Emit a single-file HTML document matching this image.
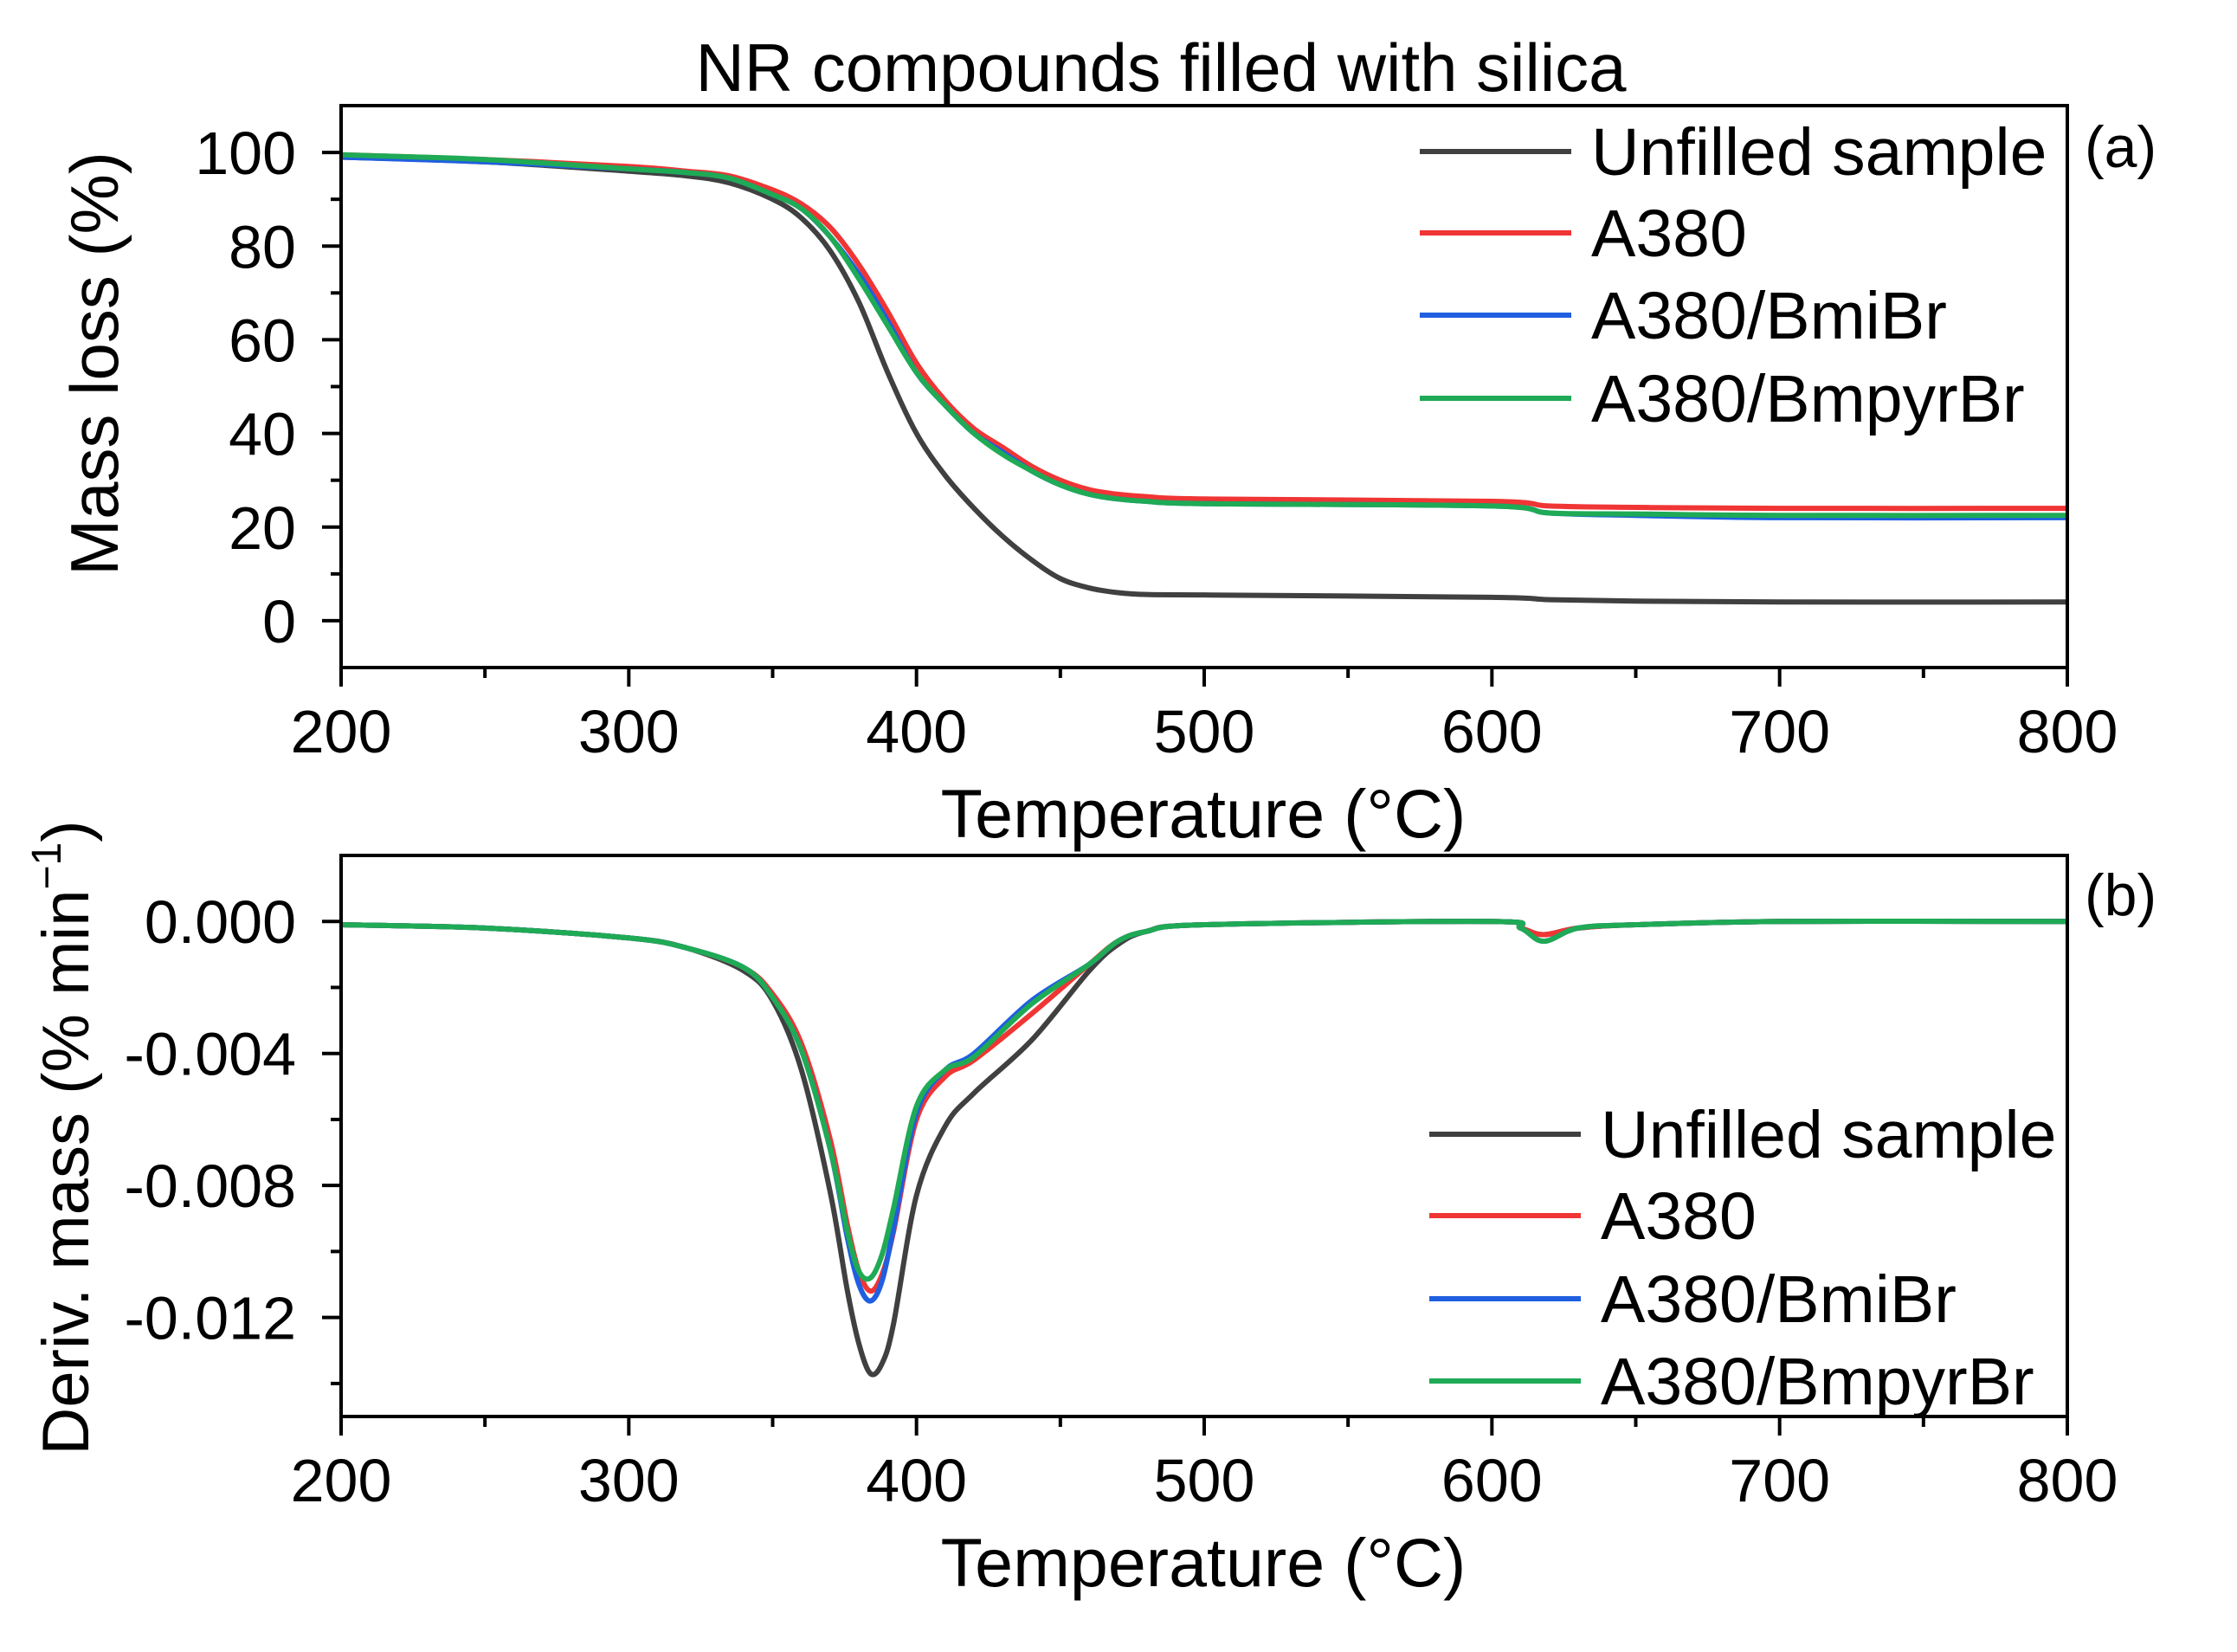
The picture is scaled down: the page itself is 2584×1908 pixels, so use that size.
<!DOCTYPE html>
<html><head><meta charset="utf-8"><style>
body{margin:0;background:#fff}
svg{display:block}
text{font-family:"Liberation Sans",Arial,sans-serif;fill:#000}
</style></head><body>
<svg id="chart" width="2584" height="1908" viewBox="0 0 2584 1908" xmlns="http://www.w3.org/2000/svg">
<text x="1341" y="105" font-size="78" text-anchor="middle">NR compounds filled with silica</text>
<g id="gtop"></g><g id="gbot"></g>
</svg>
<script>
const temps=[200,250,300,320,335,350,360,370,380,390,400,410,420,430,440,450,460,470,480,500,600,620,650,700,800];
const tgaUnfilled=[99,98,96,95,93.5,90,86,79,68,53,40,31,24,18,13,9,7,6,5.6,5.5,5,4.5,4.2,4,4];
const tgaA380=[99.5,98.5,97,96,95,92,89,84,76,66,55,47,41,37,33,30,28,27,26.5,26,25.5,24.5,24.2,24,24];
const tgaBmiBr=[99,98,96.5,95.7,94.5,91,88,82,74,64,53,46,40,36,32,29,27,26,25.5,25,24.5,23,22.5,22,22];
const tgaBmpyrBr=[99.5,98.5,96.5,95.7,94.5,91,88,82,73,63,53,46,40,35.5,32,29,27,26,25.5,25,24.5,23,22.8,22.5,22.5];
const dtgTemps=[200,250,300,320,340,350,360,370,376,380,384,388,392,400,410,420,440,460,470,480,500,600,610,618,630,650,700,800];
const dtgUnfilled=[-0.0001,-0.0002,-0.0005,-0.0008,-0.0015,-0.0024,-0.0045,-0.0082,-0.0112,-0.0128,-0.0137,-0.0134,-0.0122,-0.0083,-0.0062,-0.0052,-0.0036,-0.0015,-0.0007,-0.0003,-0.0001,0,-0.0002,-0.0004,-0.0002,-0.0001,0,0];
const dtgA380=[-0.0001,-0.0002,-0.0005,-0.0008,-0.0014,-0.0022,-0.0037,-0.0066,-0.0092,-0.0106,-0.0112,-0.0107,-0.0094,-0.0060,-0.0047,-0.0042,-0.0028,-0.0013,-0.0006,-0.0003,-0.0001,0,-0.0002,-0.0004,-0.0002,-0.0001,0,0];
const dtgBmiBr=[-0.0001,-0.0002,-0.0005,-0.0008,-0.0014,-0.0023,-0.0039,-0.0069,-0.0096,-0.0110,-0.0115,-0.0109,-0.0093,-0.0058,-0.0045,-0.0040,-0.0024,-0.0013,-0.0006,-0.0003,-0.0001,0,-0.0002,-0.0006,-0.0002,-0.0001,0,0];
const dtgBmpyrBr=[-0.0001,-0.0002,-0.0005,-0.0008,-0.0014,-0.0023,-0.0039,-0.0069,-0.0094,-0.0106,-0.0108,-0.0101,-0.0087,-0.0056,-0.0045,-0.0041,-0.0025,-0.0013,-0.0006,-0.0003,-0.0001,0,-0.0002,-0.0006,-0.0002,-0.0001,0,0];
const xTicks=[200,300,400,500,600,700,800];
const topYTicks=[0,20,40,60,80,100];
const botYTicks=[0,-0.004,-0.008,-0.012];
const botYLabels=["0.000","-0.004","-0.008","-0.012"];
const seriesNames=["Unfilled sample","A380","A380/BmiBr","A380/BmpyrBr"];
const colors=["#404040","#f03535","#1f5fe0","#1faa55"];

(function(){
const NS="http://www.w3.org/2000/svg";
function mk(p,tag,at){const e=document.createElementNS(NS,tag);for(const k in at)e.setAttribute(k,at[k]);p.appendChild(e);return e;}
const X0=394,X1=2388;
const sx=t=>X0+(t-200)/600*(X1-X0);
function smooth(pts){let d=`M${pts[0][0]},${pts[0][1]}`;for(let i=0;i<pts.length-1;i++){const p0=pts[Math.max(0,i-1)],p1=pts[i],p2=pts[i+1],p3=pts[Math.min(pts.length-1,i+2)];const c1=[p1[0]+(p2[0]-p0[0])/6,p1[1]+(p2[1]-p0[1])/6],c2=[p2[0]-(p3[0]-p1[0])/6,p2[1]-(p3[1]-p1[1])/6];d+=`C${c1[0]},${c1[1]} ${c2[0]},${c2[1]} ${p2[0]},${p2[1]}`;}return d;}
function panel(g,Y0,Y1,ymin,ymax,yt,ylabels,yminor,xs,series,pref){
  const sy=v=>Y1-(v-ymin)/(ymax-ymin)*(Y1-Y0);
  series.forEach((s,i)=>{const p=mk(g,'path',{d:smooth(xs.map((t,j)=>[sx(t),sy(s[j])])),fill:'none',stroke:colors[i],'stroke-width':6,'stroke-linejoin':'round'});
    
    });
  const f=mk(g,'rect',{x:X0,y:Y0,width:X1-X0,height:Y1-Y0,fill:'none',stroke:'#000','stroke-width':4});
  
  
  for(let t=200;t<=800;t+=50){const maj=t%100===0;mk(g,'line',{x1:sx(t),x2:sx(t),y1:Y1,y2:Y1+(maj?22:12),stroke:'#000','stroke-width':4});}
  xTicks.forEach(t=>{const e=mk(g,'text',{x:sx(t),y:Y1+98,'font-size':70,'text-anchor':'middle'});e.textContent=t;
    
    });
  yminor.forEach(v=>mk(g,'line',{x1:X0,x2:X0-12,y1:sy(v),y2:sy(v),stroke:'#000','stroke-width':4}));
  yt.forEach((v,i)=>{mk(g,'line',{x1:X0,x2:X0-22,y1:sy(v),y2:sy(v),stroke:'#000','stroke-width':4});
    const e=mk(g,'text',{x:X0-52,y:sy(v)+25,'font-size':70,'text-anchor':'end'});e.textContent=ylabels[i];
    
    });
  const xt=mk(g,'text',{x:1390,y:Y1+196,'font-size':79,'text-anchor':'middle'});xt.textContent='Temperature (°C)';
  
  
  return sy;
}
const gT=document.getElementById('gtop'),gB=document.getElementById('gbot');
panel(gT,122,771,-10,110,topYTicks,topYTicks.map(String),[10,30,50,70,90],temps,[tgaUnfilled,tgaA380,tgaBmiBr,tgaBmpyrBr],'tga');
panel(gB,988,1636,-0.015,0.002,botYTicks,botYLabels,[-0.002,-0.006,-0.010,-0.014],dtgTemps,[dtgUnfilled,dtgA380,dtgBmiBr,dtgBmpyrBr],'dtg');
function legend(g,lx,tx,ys,pref){seriesNames.forEach((n,i)=>{mk(g,'line',{x1:lx,x2:lx+175,y1:ys[i],y2:ys[i],stroke:colors[i],'stroke-width':6});
  const e=mk(g,'text',{x:tx,y:ys[i]+27,'font-size':77});e.textContent=n;
  
  });}
legend(gT,1640,1838,[175,269,364,460],'tga');
legend(gB,1651,1849,[1310,1404,1500,1595],'dtg');
const a=mk(gT,'text',{x:2408,y:193,'font-size':68});a.textContent='(a)';


const b=mk(gB,'text',{x:2408,y:1057,'font-size':68});b.textContent='(b)';


const yt1=mk(gT,'text',{x:0,y:0,'font-size':78,'text-anchor':'middle',transform:'translate(136,420) rotate(-90)'});yt1.textContent='Mass loss (%)';


const yt2=mk(gB,'text',{x:0,y:0,'font-size':76,'text-anchor':'middle',transform:'translate(102,1314) rotate(-90)'});
yt2.innerHTML='Deriv. mass (% min<tspan font-size="48" dy="-32">−1</tspan><tspan dy="32">)</tspan>';


})();
</script>
</body></html>
